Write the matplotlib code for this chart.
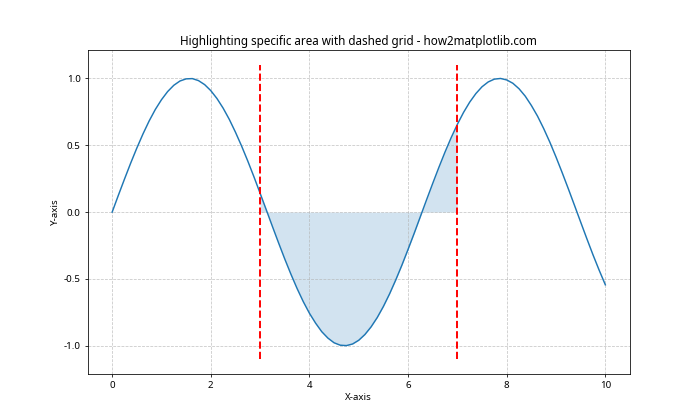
import matplotlib
matplotlib.use("Agg")
import matplotlib.pyplot as plt
import numpy as np

plt.rcParams['font.family'] = ['Noto Sans', 'DejaVu Sans']
plt.rcParams['axes.unicode_minus'] = False

x_vals = [i * 0.125 for i in range(81)]
y_vals = [0.0, 0.125, 0.247, 0.366, 0.479, 0.585, 0.682, 0.768, 0.841, 0.902,
          0.949, 0.981, 0.997, 0.999, 0.984, 0.954, 0.909, 0.850, 0.778, 0.694,
          0.598, 0.494, 0.382, 0.264, 0.141, 0.017, -0.108, -0.231, -0.351,
          -0.465, -0.572, -0.670, -0.757, -0.831, -0.895, -0.943, -0.978,
          -0.996, -0.999, -0.987, -0.959, -0.916, -0.859, -0.789, -0.706,
          -0.612, -0.508, -0.397, -0.279, -0.158, -0.033, 0.092, 0.215, 0.335,
          0.450, 0.558, 0.657, 0.746, 0.823, 0.887, 0.938, 0.974, 0.995, 1.000,
          0.989, 0.964, 0.923, 0.868, 0.798, 0.718, 0.625, 0.523, 0.412, 0.295,
          0.174, 0.050, -0.075, -0.199, -0.320, -0.435, -0.544]
highlight_start = 3
highlight_end = 7
vline_ymin = -1.1
vline_ymax = 1.1

x = np.array(x_vals)
y = np.array(y_vals)

fig, ax = plt.subplots(figsize=(10, 6), dpi=70)
ax.plot(x, y, color='#1f77b4', linewidth=1.5)
ax.fill_between(x, y, 0, where=(x >= highlight_start) & (x <= highlight_end),
                color='#1f77b4', alpha=0.2, linewidth=0)
ax.vlines([highlight_start, highlight_end], vline_ymin, vline_ymax,
          colors='red', linestyles='--', linewidth=2)
ax.grid(True, linestyle='--', alpha=0.7)
ax.set_title('Highlighting specific area with dashed grid - how2matplotlib.com')
ax.set_xlabel('X-axis')
ax.set_ylabel('Y-axis')
fig.savefig('out.png', dpi=70)
